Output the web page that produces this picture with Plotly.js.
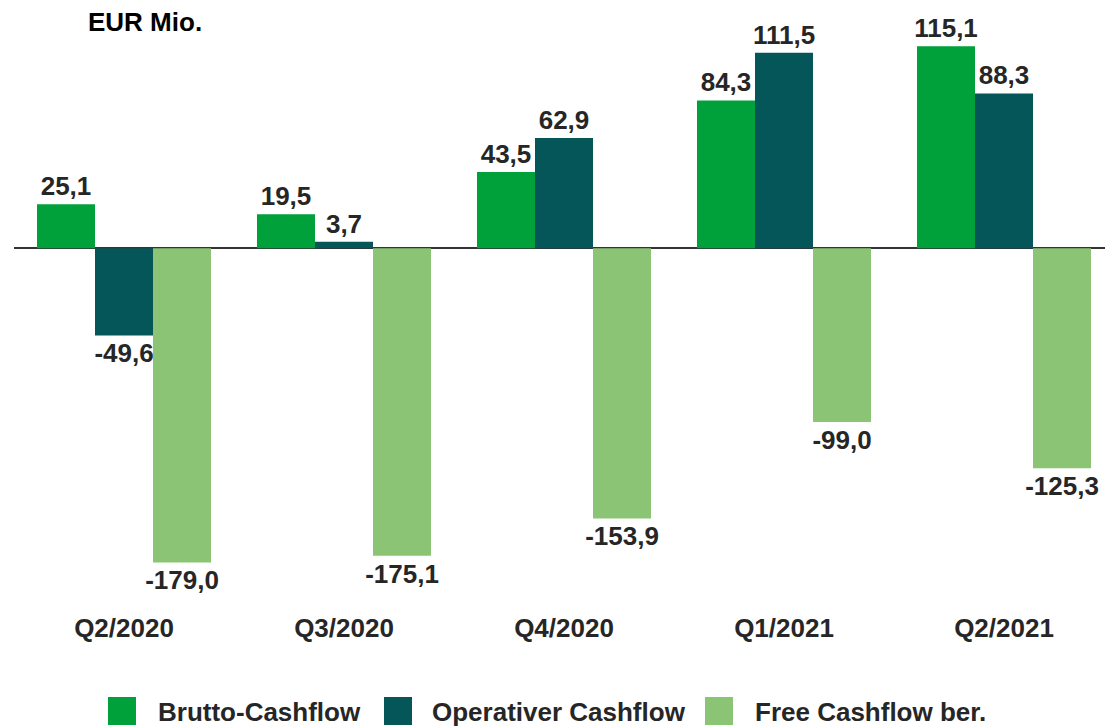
<!DOCTYPE html>
<html>
<head>
<meta charset="utf-8">
<script src="https://cdn.plot.ly/plotly-3.0.1.min.js"></script>
<style>html,body{margin:0;padding:0;background:#fff;}#chart{width:1105px;height:726px;}</style>
</head>
<body>
<div id="chart"></div>
<script>
const categories = ["Q2/2020", "Q3/2020", "Q4/2020", "Q1/2021", "Q2/2021"];
const seriesNames = ["Brutto-Cashflow", "Operativer Cashflow", "Free Cashflow ber."];
const brutto = [25.1, 19.5, 43.5, 84.3, 115.1];
const operativ = [-49.6, 3.7, 62.9, 111.5, 88.3];
const free = [-179.0, -175.1, -153.9, -99.0, -125.3];
const colors = ["#00A13A", "#055658", "#8BC474"];

const W = 1105, H = 726;
const M = {l: 14, r: 0, t: 29, b: 153};
const FONT = "Liberation Sans, Arial, sans-serif";
const TXT = "#262626";
const FS = 26;

function fmt(v) { return v.toFixed(1).replace(".", ","); }

const seriesVals = [brutto, operativ, free];
const traces = seriesVals.map((vals, i) => ({
  type: "bar",
  name: seriesNames[i],
  x: categories,
  y: vals,
  text: vals.map(fmt),
  textposition: "outside",
  constraintext: "none",
  cliponaxis: false,
  textfont: {family: FONT, size: FS, color: TXT, weight: "bold"},
  marker: {color: colors[i], line: {width: 0}},
  hoverinfo: "skip",
  showlegend: false
}));

// custom legend (pixel helpers -> paper coords)
const pw = W - M.l - M.r, ph = H - M.t - M.b;
const px2x = p => (p - M.l) / pw;
const py2y = p => (H - M.b - p) / ph;
const legendSq = [108, 384, 705];
const legendTx = [156, 430, 753];
const shapes = legendSq.map((sx, i) => ({
  type: "rect", xref: "paper", yref: "paper",
  x0: px2x(sx), x1: px2x(sx + 28), y0: py2y(725), y1: py2y(697),
  fillcolor: colors[i], line: {width: 0}
}));
const annotations = seriesNames.map((n, i) => ({
  xref: "paper", yref: "paper", x: px2x(legendTx[i]), y: py2y(712),
  xanchor: "left", yanchor: "middle", showarrow: false, text: n,
  font: {family: FONT, size: FS, color: TXT, weight: "bold"}
}));

const layout = {
  width: W, height: H,
  margin: {l: M.l, r: M.r, t: M.t, b: M.b, pad: 0},
  paper_bgcolor: "#fff", plot_bgcolor: "#fff",
  barmode: "group", bargap: 0.209, bargroupgap: 0,
  title: {text: "<b>EUR Mio.</b>", xref: "container", yref: "container",
          x: 88 / W, xanchor: "left", y: 1 - 22 / H, yanchor: "middle",
          font: {family: FONT, size: FS, color: "#000"}},
  xaxis: {range: [-0.5, -0.5 + pw / 220], showgrid: false, zeroline: false,
          showline: false, ticks: "", ticklabelstandoff: 37,
          tickfont: {family: FONT, size: FS, color: TXT, weight: "bold"}, fixedrange: true},
  yaxis: {range: [-185, 125], showgrid: false, zeroline: true, zerolinecolor: "#333",
          zerolinewidth: 2, showticklabels: false, ticks: "", showline: false, fixedrange: true},
  shapes: shapes,
  annotations: annotations,
  showlegend: false
};

Plotly.newPlot("chart", traces, layout, {displayModeBar: false, staticPlot: true});
</script>
</body>
</html>
